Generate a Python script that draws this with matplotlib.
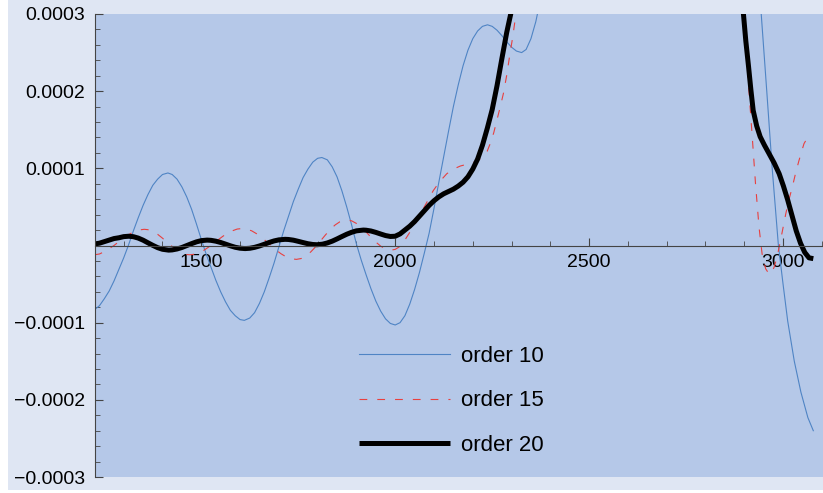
import matplotlib.pyplot as plt
from matplotlib.patches import Rectangle
from matplotlib.ticker import FixedLocator, MultipleLocator, FuncFormatter

plt.rcParams['font.family'] = ['Liberation Sans', 'DejaVu Sans']

# valores, en unidades de 1e-4
x10 = [1225, 1237.5, 1250, 1262.5, 1275, 1287.5, 1300, 1312, 1325, 1337.5, 1350,
       1362.5, 1375, 1387.5, 1400, 1414, 1425, 1437.5, 1450, 1462.5, 1475, 1487.5,
       1500, 1512.5, 1525, 1537.5, 1550, 1562.5, 1575, 1587.5, 1600, 1611, 1625,
       1637.5, 1650, 1662.5, 1675, 1687.5, 1700, 1712.5, 1725, 1737.5, 1750,
       1762.5, 1775, 1787.5, 1800, 1811, 1825, 1837.5, 1850, 1862.5, 1875,
       1887.5, 1900, 1912.5, 1925, 1937.5, 1950, 1962.5, 1975, 1987.5, 2000,
       2012.5, 2025, 2037.5, 2050, 2062.5, 2075, 2087.5, 2100, 2112.5, 2125,
       2137.5, 2150, 2162.5, 2175, 2187.5, 2200, 2212.5, 2225, 2238, 2250,
       2262.5, 2275, 2287.5, 2300, 2312.5, 2326, 2337.5, 2350, 2362.5, 2375,
       2400, 2450, 2500, 2600, 2700, 2800, 2900, 2920, 2930, 2943, 2958, 2972,
       2988, 3000, 3012, 3029, 3046, 3064, 3078]
y10 = [-0.83, -0.78, -0.69, -0.59, -0.46, -0.31, -0.16, 0.0, 0.19, 0.36, 0.52,
       0.66, 0.78, 0.86, 0.92, 0.94, 0.92, 0.86, 0.76, 0.63, 0.47, 0.28,
       0.08, -0.11, -0.28, -0.45, -0.60, -0.73, -0.84, -0.91, -0.96, -0.97, -0.94,
       -0.87, -0.75, -0.60, -0.42, -0.23, -0.02, 0.19, 0.38, 0.57, 0.73,
       0.88, 0.99, 1.08, 1.13, 1.14, 1.11, 1.02, 0.89, 0.71, 0.50,
       0.27, 0.02, -0.19, -0.38, -0.56, -0.72, -0.85, -0.95, -1.01, -1.03,
       -1.00, -0.91, -0.76, -0.57, -0.35, -0.10, 0.16, 0.48, 0.82, 1.15,
       1.48, 1.80, 2.08, 2.33, 2.53, 2.68, 2.78, 2.84, 2.86, 2.84,
       2.79, 2.72, 2.64, 2.57, 2.52, 2.50, 2.54, 2.68, 2.90, 3.2,
       4.2, 7, 11, 19, 22, 17, 8, 5.8, 4.5, 3.05, 2.0, 1.0,
       0.0, -0.5, -0.98, -1.5, -1.9, -2.23, -2.40]

x15 = [1225, 1237.5, 1250, 1262.5, 1275, 1287.5, 1300, 1312.5, 1325, 1337.5, 1353,
       1362.5, 1375, 1387.5, 1400, 1412.5, 1425, 1437.5, 1450, 1462.5, 1470,
       1480, 1492.5, 1505, 1517.5, 1530, 1542.5, 1555, 1567.5, 1580, 1592.5, 1605,
       1617.5, 1630, 1642.5, 1655, 1667.5, 1680, 1692.5, 1705, 1717.5, 1730, 1745,
       1757.5, 1770, 1782.5, 1795, 1807.5, 1820, 1832.5, 1845, 1857.5, 1875,
       1887.5, 1900, 1912.5, 1925, 1937.5, 1950, 1962.5, 1975, 1990,
       2000, 2010, 2021, 2035, 2051, 2063, 2075, 2087, 2098, 2115, 2133, 2150,
       2168, 2183, 2198, 2213, 2228, 2237, 2245, 2254, 2262, 2270, 2279, 2288,
       2296, 2303, 2309, 2320, 2400, 2500, 2600, 2700, 2800, 2880, 2895, 2905,
       2911, 2920, 2929, 2938, 2946, 2955, 2964, 2970, 2977, 2984, 2990, 2998,
       3007, 3015, 3024, 3032, 3041, 3048, 3054, 3061, 3068]
y15 = [-0.12, -0.11, -0.08, -0.04, 0.00, 0.05, 0.10, 0.14, 0.175, 0.20, 0.21,
       0.205, 0.18, 0.145, 0.095, 0.04, -0.013, -0.06, -0.097, -0.117, -0.12,
       -0.115, -0.097, -0.067, -0.026, 0.02, 0.07, 0.117, 0.16, 0.19, 0.213, 0.22,
       0.212, 0.19, 0.153, 0.107, 0.053, 0.00, -0.057, -0.105, -0.143, -0.169, -0.18,
       -0.169, -0.135, -0.082, -0.016, 0.06, 0.136, 0.207, 0.266, 0.308, 0.33,
       0.32, 0.286, 0.236, 0.175, 0.108, 0.045, -0.008, -0.044, -0.06,
       -0.05, -0.02, 0.04, 0.15, 0.28, 0.39, 0.50, 0.61, 0.71, 0.83, 0.93, 0.99,
       1.03, 1.05, 1.07, 1.10, 1.16, 1.22, 1.32, 1.46, 1.62, 1.78, 1.97, 2.22,
       2.49, 2.70, 2.92, 3.4, 7, 14, 20, 22, 16, 6, 3.3, 2.6,
       2.08, 1.45, 0.80, 0.24, -0.11, -0.30, -0.37, -0.36, -0.28, -0.16, -0.02, 0.18,
       0.41, 0.59, 0.76, 0.93, 1.10, 1.22, 1.32, 1.38, 1.42]

x20 = [1225, 1237.5, 1250, 1262.5, 1275, 1287.5, 1300, 1313, 1325, 1337.5, 1350,
       1362.5, 1375, 1387.5, 1400, 1416, 1425, 1437.5, 1450, 1462.5, 1475, 1487.5,
       1500, 1515, 1525, 1537.5, 1550, 1562.5, 1575, 1587.5, 1600, 1613, 1625,
       1637.5, 1650, 1662.5, 1675, 1687.5, 1700, 1716, 1725, 1737.5, 1750, 1762.5,
       1775, 1787.5, 1798, 1812.5, 1825, 1837.5, 1850, 1862.5, 1875, 1887.5, 1900,
       1918, 1925, 1937.5, 1950, 1962.5, 1975, 1987.5, 2000, 2012.5, 2025, 2037.5,
       2050, 2062.5, 2075, 2087.5, 2100, 2112.5, 2125, 2137.5, 2150, 2162.5, 2175,
       2187.5, 2200, 2212.5, 2225, 2237.5, 2250, 2262.5, 2275, 2287.5, 2300,
       2312.5, 2400, 2500, 2600, 2700, 2800, 2880, 2897, 2904, 2911, 2917, 2923,
       2932, 2941, 2952, 2964, 2977, 2990, 3001, 3012, 3023, 3034, 3045, 3056,
       3067, 3078]
y20 = [0.02, 0.03, 0.05, 0.07, 0.09, 0.10, 0.115, 0.12, 0.114, 0.096, 0.069,
       0.035, 0.002, -0.028, -0.049, -0.06, -0.057, -0.045, -0.026, -0.001, 0.024, 0.047,
       0.063, 0.07, 0.067, 0.056, 0.039, 0.018, -0.004, -0.023, -0.035, -0.04, -0.036,
       -0.024, -0.006, 0.016, 0.039, 0.059, 0.073, 0.08, 0.078, 0.069, 0.054, 0.038,
       0.023, 0.013, 0.01, 0.017, 0.033, 0.056, 0.085, 0.116, 0.146, 0.171, 0.19,
       0.20, 0.198, 0.188, 0.17, 0.149, 0.129, 0.117, 0.12, 0.15, 0.20, 0.25,
       0.31, 0.38, 0.45, 0.52, 0.58, 0.63, 0.67, 0.70, 0.73, 0.77, 0.82,
       0.89, 0.99, 1.12, 1.30, 1.52, 1.76, 2.07, 2.42, 2.76, 3.05,
       3.35, 6, 12, 18, 20, 14, 5, 3.05, 2.65, 2.32, 2.02, 1.75,
       1.55, 1.41, 1.30, 1.19, 1.07, 0.93, 0.77, 0.59, 0.39, 0.19, 0.03, -0.09,
       -0.16, -0.17]

ESC = 1e-4
x_ticks = [1500, 2000, 2500, 3000]
y_ticks = [-3e-4, -2e-4, -1e-4, 1e-4, 2e-4, 3e-4]


def graficos():
    fig = plt.figure(figsize=(8.23, 4.93), dpi=100, facecolor='white')
    fig.patches.append(Rectangle((8 / 823, 3 / 493), 1, 1, transform=fig.transFigure,
                                 facecolor='#dfe6f3', edgecolor='none', zorder=-10))
    ax = fig.add_axes([95 / 823, 1 - 477 / 493, 1 - 95 / 823, (477 - 14) / 493])
    ax.set_zorder(5)
    ax.set_facecolor('#b5c8e8')

    ax.plot(x10, [v * ESC for v in y10], color='#4f84c4', lw=0.8, label='order 10')
    ax.plot(x15, [v * ESC for v in y15], color='#e8403f', lw=0.8,
            linestyle=(0, (7, 9)), label='order 15')
    ax.plot(x20, [v * ESC for v in y20], color='black', lw=3.6,
            solid_capstyle='butt', solid_joinstyle='round', label='order 20')

    ax.set_xlim(1226, 3103)
    ax.set_ylim(-3e-4, 3e-4)

    for s in ['top', 'right']:
        ax.spines[s].set_visible(False)
    ax.spines['bottom'].set_position(('data', 0))
    ax.spines['bottom'].set_color('#444444')
    ax.spines['left'].set_color('#444444')

    ax.xaxis.set_major_locator(FixedLocator(x_ticks))
    ax.xaxis.set_minor_locator(MultipleLocator(100))
    ax.yaxis.set_major_locator(FixedLocator(y_ticks))
    ax.yaxis.set_minor_locator(MultipleLocator(2e-5))
    ax.yaxis.set_major_formatter(FuncFormatter(
        lambda v, p: ('\u2212' if v < 0 else '') + '%.4f' % abs(v)))
    ax.tick_params(which='both', direction='in', color='#444444', labelsize=14)
    ax.tick_params(which='major', length=6)
    ax.tick_params(which='minor', length=3.5)
    ax.tick_params(axis='y', pad=7)
    ax.tick_params(axis='x', pad=6)

    ax.legend(loc='upper left', bbox_to_anchor=(359 / 823, 1 - 346 / 493),
              bbox_transform=fig.transFigure, frameon=False, fontsize=16,
              handlelength=4.1, handletextpad=0.5, labelspacing=1.05,
              borderpad=0, borderaxespad=0)

    plt.savefig('out.png')


if __name__ == '__main__':
    graficos()
